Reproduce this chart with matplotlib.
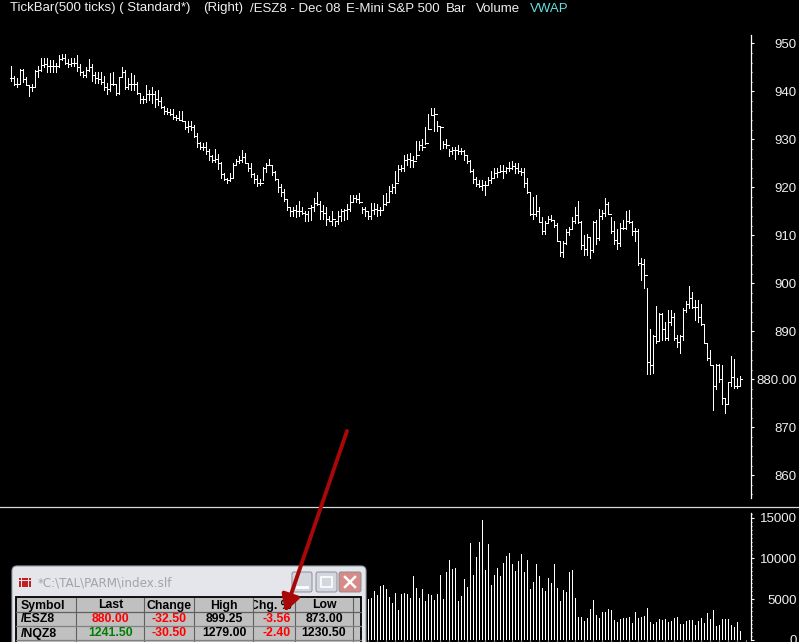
import numpy as np
import matplotlib
matplotlib.use("Agg")
import matplotlib.pyplot as plt
from matplotlib.patches import Rectangle, FancyBboxPatch

plt.rcParams['font.family'] = ['Liberation Sans', 'DejaVu Sans']

# price bars, one per 500 ticks
highs = [
    945.25, 943.25, 942.75, 944.75, 944.75, 943, 941.25, 941.5, 944.5, 945.25,
    947, 947, 947, 946.5, 946.5, 946, 947.5, 947.75, 947.75, 946.75,
    947, 947, 947.5, 945.75, 944.25, 945, 946.75, 945.75, 944, 944,
    944, 943.25, 941.75, 943.75, 944, 941.5, 943, 945, 944.5, 942.75,
    943.75, 943.5, 942, 939.75, 939, 941.25, 940.25, 941, 940, 940.25,
    938.75, 937, 936.5, 936.25, 936.25, 935, 936, 936, 933.75, 933.75,
    933.75, 933, 931.25, 929.5, 929.25, 929.5, 928, 926.75, 928, 927,
    925.25, 923, 922, 923, 925, 926, 926.5, 927.75, 927.25, 925,
    925, 923, 922.5, 921.75, 924.25, 925, 926,
    924.5, 923.5, 921.5, 920.75, 919.75, 917.5, 916, 916, 916.25, 917.25,
    916, 915, 915, 916.25, 917.75, 919, 917.25, 916.25, 916, 914,
    915, 913, 915, 915.5, 915.5, 916.5, 918.5, 918.5, 918.5, 918.75,
    916, 916, 915, 916.75, 916.75, 916.5, 916, 918.5, 918.75, 920.25,
    920.75, 923.5, 924.75, 924.75, 926.75, 927, 927.25, 926.5, 929.75, 929.75,
    930, 932.5, 935.25, 936.5, 936.5, 933.75, 932.5, 929.75, 930, 928,
    928.5, 928.5, 928.75, 928.25, 927.75, 926.5, 925.75, 923.75, 922.25, 921.5,
    921.5, 921.25, 922.25, 923.5, 924, 924, 924.75, 924.75, 924.25, 925.25,
    925.5, 925, 925, 924, 924, 922, 919, 918, 918.5, 916,
    913.75, 913, 914, 914.25, 913.25, 912.5, 908.75, 908.75, 911.25, 911.75,
    913.75, 916, 917.25, 913, 910, 910.25, 909.75, 913, 913.25, 915.5,
    915.25, 917.75, 917, 913.75, 913, 911.25, 912.5, 913.25, 915, 915.25,
    913, 911.5, 911.25, 905.25, 905, 899, 890.5, 889.25, 895.25, 893.75,
    893.75, 892, 894.5, 894.5, 893.75, 889.25, 889.25, 894.75, 896.25, 899.5,
    898.25, 896.5, 896.5, 895.75, 891.5, 887.5, 886, 883, 883.25, 883.25,
    883, 876, 879.5, 884.75, 884.25, 880.25, 880.75,
]
lows = [
    942.25, 941.25, 941, 941.5, 942, 941.25, 939, 940, 941, 943,
    944.25, 945, 944, 944, 944, 944, 945, 946.5, 945.75, 945,
    945.25, 945.25, 944.25, 943.5, 943, 943, 944.25, 942.25, 941.75, 941.75,
    941.5, 940.25, 939.5, 940, 941.25, 939.25, 939.5, 943, 940.5, 940.5,
    940.25, 940.25, 939.5, 937.5, 937.5, 937.75, 938.25, 937.5, 936.75, 937.25,
    936.5, 935.25, 935.25, 935, 934.25, 934, 934, 933.75, 932.25, 931.5,
    932, 930.5, 928.5, 928, 927.75, 927, 925.75, 925.25, 925.25, 923.75,
    922, 921.5, 921, 921.25, 922, 924.75, 925, 925.25, 925, 923.5,
    922.25, 921, 920.25, 920.5, 921.5, 923.25, 924.75,
    922.5, 921.5, 919, 918.25, 917.25, 915.25, 914, 914, 913.75, 914,
    914.5, 913, 913, 913.25, 915, 916.25, 913.5, 913.5, 912.25, 913,
    912.25, 912, 912.35, 913, 913.25, 913.5, 915, 917, 917, 916.75,
    914.75, 914, 913.5, 913.5, 914.5, 914, 914.25, 915.5, 916.25, 917.25,
    918.75, 918.75, 921.25, 923.5, 923.5, 924.75, 924.25, 924.25, 926, 927.75,
    927.75, 929, 932.25, 935, 931.75, 931.75, 928, 928.25, 928.25, 926.5,
    927, 926, 927, 927, 925.75, 925, 923.25, 921, 920.25, 920,
    919.5, 918.5, 920.5, 921, 922, 922.25, 923.25, 922, 923, 923.5,
    923.75, 923, 923, 922.5, 920, 918.75, 914.25, 913.5, 914, 912.75,
    910.25, 910.25, 912.5, 913, 911.75, 908.75, 905.75, 905.5, 908.25, 910,
    911.25, 912.5, 912.5, 907.25, 906, 906, 905.25, 906.5, 908.25, 909,
    913.5, 914, 914.5, 910.5, 908.25, 907.25, 907.75, 911.25, 911.25, 912.5,
    910, 908.75, 903.75, 900.75, 899, 881, 881, 881.25, 887.5, 888.25,
    888.25, 888.25, 888.25, 891.25, 888.25, 886.75, 885.5, 888.25, 894, 894.75,
    894.75, 892.25, 892, 891.25, 887.5, 884, 883, 873.5, 878, 879.5,
    874.75, 873, 874.75, 878.5, 878.25, 878.25, 878.75,
]
closes = [
    942.75, 941.5, 941.5, 944.5, 942.5, 941.25, 941, 941, 944.25, 944.5,
    945.5, 945.75, 945.25, 945.25, 945.25, 945.25, 946.75, 947, 946, 945.75,
    946, 946, 945, 944, 943.5, 944.5, 945, 943.5, 942.75, 942.5,
    942, 941, 940.5, 941.5, 941.5, 939.75, 943, 944, 941, 941.5,
    941.5, 941.5, 939.75, 938.5, 938.5, 939.5, 939.5, 939.5, 938.5, 938,
    936.75, 936, 935.75, 935.25, 934.75, 934.5, 934, 933.75, 932.5, 932.75,
    932.5, 930.75, 929.25, 928.5, 928.5, 927.5, 926.5, 925.75, 926, 925,
    922.75, 921.75, 921.5, 922, 924.75, 925.5, 925.75, 926.25, 925, 924,
    922.75, 921.75, 921, 921, 924, 924.75, 924.75,
    923.25, 921.75, 920, 919, 917.5, 916, 915, 915.25, 915, 915,
    914.75, 914.5, 915.75, 916, 916.75, 916.5, 915, 914.75, 913.5, 913,
    913.5, 913, 914, 915, 915.25, 915.5, 917, 917.75, 917.5, 917,
    915.5, 915, 914, 915.25, 915.5, 915.25, 915.25, 916.5, 917, 919.25,
    920, 921, 923.75, 924, 925.75, 926, 925.75, 925.5, 926.75, 928.75,
    928.5, 929.25, 932.25, 935, 935.25, 932.75, 932.5, 929, 928.75, 927.5,
    927.75, 927.75, 927.5, 927.5, 926.75, 925.5, 923.5, 921.75, 920.75, 920.25,
    920.5, 920.5, 921.5, 922, 923, 923.25, 923.5, 923.5, 924, 924,
    924.5, 924, 923.5, 923.25, 921, 919, 914.5, 914.5, 915, 912.75,
    911, 912.5, 913.5, 913.25, 912.25, 908.75, 906.5, 908.5, 910.75, 911.25,
    913, 914.25, 912.75, 908, 907.25, 909.75, 907, 912.75, 909.5, 914,
    914.75, 916.5, 914.5, 911, 909, 908.5, 911.5, 911.5, 913, 912.75,
    911, 911, 904.25, 904, 901.75, 883.5, 883, 889, 888, 893.5,
    890.5, 888.5, 892, 893, 888.5, 887.75, 889, 894.5, 895.75, 897,
    895, 895, 893, 891.5, 887.5, 884.5, 883, 878.5, 883, 880,
    876, 874.75, 879.5, 880.5, 878.5, 878.5, 880,
]
# volume is only visible to the right of the quote window
vol_start = 119
volumes = [
    5030, 5150, 6010, 5520, 6630, 6750, 6260, 5240, 4540, 5770,
    3680, 5640, 5770, 5640, 5150, 7850, 6380, 5150, 6260, 4790,
    5640, 5520, 4910, 5640, 7980, 5030, 8340, 9820, 8710, 8830,
    4790, 5400, 7480, 6500, 11900, 7980, 10180, 12020, 14720, 8590,
    11780, 6750, 7980, 8830, 7850, 9450, 10310, 10670, 9330, 8470,
    9690, 10550, 8340, 9820, 6260, 7120, 9330, 7850, 6380, 6010,
    7610, 6990, 9330, 6380, 4790, 6140, 5890, 8340, 8590, 5150,
    2820, 2820, 2330, 2700, 3800, 4910, 3070, 2700, 3440, 3440,
    3800, 3680, 2450, 2210, 2580, 2700, 2700, 2820, 2090, 3440,
    2700, 2820, 2940, 3930, 2210, 1960, 2210, 2580, 2450, 2580,
    2210, 2330, 2700, 2820, 1960, 1960, 2330, 2450, 2450, 1840,
    2330, 2700, 2090, 3310, 2580, 3680, 1720, 1840, 2580, 2580,
    2580, 1840, 1600, 2210, 1100,
]
price_ticks = [860, 870, 880, 890, 900, 910, 920, 930, 940, 950]
price_labels = ['860', '870', '880.00', '890', '900', '910', '920', '930', '940', '950']
vol_ticks = [0, 5000, 10000, 15000]

title_parts = [
    ('TickBar(500 ticks) ( Standard*)', 9.6, '#f0f0f0'),
    ('(Right)', 203, '#f0f0f0'),
    ('/ESZ8 - Dec 08', 250, '#f0f0f0'),
    ('E-Mini S&P 500', 346, '#f0f0f0'),
    ('Bar', 446, '#f0f0f0'),
    ('Volume', 476, '#f0f0f0'),
    ('VWAP', 530, '#66e0e0'),
]
col_headers = ['Symbol', 'Last', 'Change', 'High', 'Chg. %', 'Low']
row_esz = ['/ESZ8', '880.00', '-32.50', '899.25', '-3.56', '873.00']
row_nqz = ['/NQZ8', '1241.50', '-30.50', '1279.00', '-2.40', '1230.50']
colors_esz = ['black', '#ff0000', '#ff0000', 'black', '#ff0000', 'black']
colors_nqz = ['black', '#008000', '#ff0000', 'black', '#ff0000', 'black']

W, H = 799, 642
fig = plt.figure(figsize=(W / 100, H / 100), dpi=100, facecolor='black')
BAR_LW = 0.72  # one pixel at dpi 100


def px_axes(left, top, right, bottom, **kw):
    return fig.add_axes([left / W, 1 - bottom / H, (right - left) / W, (bottom - top) / H], **kw)


def style_axis(ax):
    ax.set_facecolor('black')
    for s in ['left', 'top', 'bottom']:
        ax.spines[s].set_visible(False)
    ax.spines['right'].set_color('white')
    ax.spines['right'].set_linewidth(0.9)
    ax.yaxis.tick_right()
    ax.tick_params(axis='y', which='major', length=2.2, width=0.8, color='white',
                   labelcolor='#f0f0f0', labelsize=9.5, pad=30.7)
    ax.tick_params(axis='y', which='minor', length=0.9, width=0.8, color='white')
    for t in ax.yaxis.get_major_ticks():
        t.label2.set_ha('right')


x_limits = (-3.78, 246.56)

# price panel
ax = px_axes(0, 35, 751, 498)
x = np.arange(len(highs))
opens = np.r_[closes[0], closes[:-1]]  # each bar opens about where the last one closed
ax.vlines(x, lows, highs, color='white', lw=BAR_LW, antialiased=False)
ax.hlines(opens, x - 0.5, x, color='white', lw=BAR_LW, antialiased=False)
ax.hlines(closes, x, x + 0.5, color='white', lw=BAR_LW, antialiased=False)
ax.set_xlim(*x_limits)
ax.set_ylim(855.27, 951.73)
ax.set_xticks([])
ax.set_yticks(price_ticks)
ax.set_yticklabels(price_labels)
ax.set_yticks(np.arange(856, 952, 2), minor=True)
style_axis(ax)

# volume panel
ax2 = px_axes(0, 513, 751, 640)
xv = np.arange(vol_start, vol_start + len(volumes))
ax2.vlines(xv, 0, volumes, color='white', lw=BAR_LW, antialiased=False)
ax2.set_xlim(*x_limits)
ax2.set_ylim(0, 15577)
ax2.set_xticks(np.arange(vol_start, 246, 3))
ax2.tick_params(axis='x', length=0.8, width=0.8, color='white', labelbottom=False)
ax2.set_yticks(vol_ticks)
ax2.set_yticks(np.arange(0, 15501, 500), minor=True)
style_axis(ax2)

# overlay in screen pixels for the title row, divider and quote window
ov = fig.add_axes([0, 0, 1, 1], facecolor='none')
ov.set_xlim(0, W)
ov.set_ylim(H, 0)
ov.axis('off')

for label, tx, col in title_parts:
    ov.text(tx, 8.5, label, color=col, fontsize=9.5, va='center', ha='left')
ov.plot([0, W], [507, 507], color='#d8d8d8', lw=0.9)

# quote window
ov.add_patch(FancyBboxPatch((12, 566), 354, 90, boxstyle='round,pad=0,rounding_size=5',
                            fc='#e4e6ec', ec='#9aa0a8', lw=0.8, zorder=5))
for r in range(3):
    for c in range(4):
        ov.add_patch(Rectangle((18.5 + c * 3.4, 577.5 + r * 3.4), 2.6, 2.6, fc='#c02020', ec='none', zorder=6))
ov.text(37.5, 582.5, '*C:\\TAL\\PARM\\index.slf', color='#a4a4a4', fontsize=9.5, va='center', ha='left',
        family='DejaVu Sans', zorder=6, stretch='condensed')
for bx, bw, col in [(292, 20, '#d4d6de'), (316, 21, '#d4d6de'), (339, 22, '#d88a86')]:
    ov.add_patch(FancyBboxPatch((bx, 572), bw, 20, boxstyle='round,pad=0,rounding_size=2',
                                fc=col, ec='#8a8e98', lw=0.7, zorder=6))
ov.plot([297, 307], [587, 587], color='white', lw=2, zorder=7)
ov.add_patch(Rectangle((321, 577), 11, 10, fc='none', ec='white', lw=1.2, zorder=7))
ov.plot([345, 355], [577, 587], color='white', lw=1.8, zorder=7)
ov.plot([345, 355], [587, 577], color='white', lw=1.8, zorder=7)

# quote table
ov.add_patch(Rectangle((16, 597), 345, 50, fc='#c0c0c0', ec='black', lw=1.3, zorder=6))
col_edges = [76, 144, 194.3, 253.3, 295, 353.3]
for ce in col_edges:
    ov.plot([ce, ce], [598, 642], color='#606060', lw=0.8, zorder=7)
ov.plot([16, 361], [612, 612], color='#606060', lw=0.9, zorder=7)
ov.plot([16, 361], [626, 626], color='#808080', lw=0.9, zorder=7)
ov.plot([16, 361], [640, 640], color='#808080', lw=0.9, zorder=7)

col_x = [20.5, 110.5, 169.3, 224, 277, 324]
for j, (h, a, b) in enumerate(zip(col_headers, row_esz, row_nqz)):
    ha = 'left' if j == 0 else 'center'
    ht = ov.text(col_x[j], 605.5, h, color='black', fontsize=8.8, weight='bold', va='center', ha=ha, zorder=8)
    if h == 'Chg. %':
        # the header is wider than its column and loses the left of the C
        ht.set_position((250.5, 605.5))
        ht.set_ha('left')
        ht.set_clip_path(Rectangle((254, 598), 41, 14, transform=ov.transData))
        ht.set_clip_on(True)
    ov.text(col_x[j], 619.5, a, color=colors_esz[j], fontsize=8.8, weight='bold', va='center', ha=ha, zorder=8)
    ov.text(col_x[j], 633.5, b, color=colors_nqz[j], fontsize=8.8, weight='bold', va='center', ha=ha, zorder=8)

# red arrow pointing at the percent change
ov.annotate('', xy=(285, 612), xytext=(347, 431), zorder=9,
            arrowprops=dict(arrowstyle='-|>,head_length=1.0,head_width=0.55', color='#a80808', lw=2.8,
                            shrinkA=0, shrinkB=0))

fig.savefig('out.png', dpi=100, facecolor='black')
